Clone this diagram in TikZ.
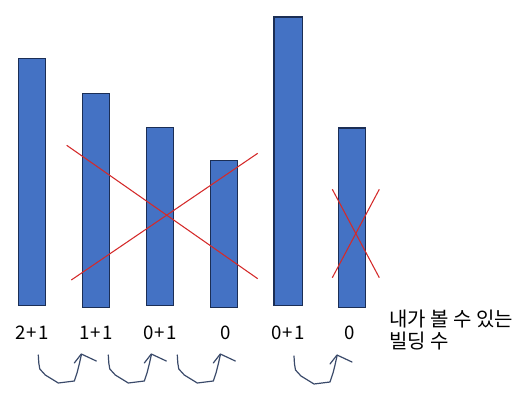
\documentclass[tikz,border=0pt]{standalone}
\usepackage{fontspec}
\setmainfont{Noto Sans CJK KR}
\definecolor{barfill}{HTML}{4472C4}
\definecolor{barline}{HTML}{1B2E55}
\definecolor{xred}{HTML}{D42A2A}
\definecolor{hand}{HTML}{3A4A6A}
\tikzset{
  bar/.style={fill=barfill,draw=barline,line width=0.9pt},
  cross/.style={draw=xred,line width=0.8pt},
  lbl/.style={font=\fontsize{14}{16}\selectfont,inner sep=0pt},
  notelbl/.style={font=\fontsize{15}{16}\selectfont,inner sep=0pt},
  handline/.style={draw=hand,line width=0.9pt,line join=round,line cap=round}
}
\newcommand{\pl}{\kern1pt+\kern1pt}
\newcommand{\handarrow}[2]{%
  \begin{scope}[shift={(#1,#2)}]
    \draw[handline] (0,0) -- (0.5,8) -- (1.5,14) -- (7,20) -- (20,28) -- (36,26) -- (39,17) -- (41,9) -- (43,0);
    \draw[handline] (36,8) -- (43,-1) -- (58,6);
  \end{scope}}
\begin{document}
\begin{tikzpicture}[x=0.75pt,y=-0.75pt]
\useasboundingbox (0,0) rectangle (524,400);
% bars
\draw[bar] (18.3,58.3) rectangle (45.3,305.3);
\draw[bar] (82.3,93.3) rectangle (109.3,307.3);
\draw[bar] (146.3,127.3) rectangle (173.3,305.3);
\draw[bar] (210.3,160.3) rectangle (237.3,307.3);
\draw[bar] (274,17) rectangle (302.7,305.3);
\draw[bar] (338.3,128) rectangle (365.3,307.3);
% crosses
\coordinate (c1a) at (66.7,145.3);
\coordinate (c1b) at (257.7,278.7);
\coordinate (c2a) at (71.3,280);
\coordinate (c2b) at (257.7,153.3);
\draw[cross] (c1a) -- (c1b);
\draw[cross] (c2a) -- (c2b);
\coordinate (c3a) at (332.3,189.3);
\coordinate (c3b) at (379.3,277.7);
\coordinate (c4a) at (332.3,277.7);
\coordinate (c4b) at (379.3,189.3);
\draw[cross] (c3a) -- (c3b);
\draw[cross] (c4a) -- (c4b);
% labels
\node[lbl] (l1) at (32,333) {2\pl1};
\node[lbl] (l2) at (96,333) {1\pl1};
\node[lbl] (l3) at (160,333) {0\pl1};
\node[lbl] (l4) at (226,333) {0};
\node[lbl] (l5) at (288,333) {0\pl1};
\node[lbl] (l6) at (350,333) {0};
\node[notelbl,anchor=north west,align=left] (note) at (389,310) {내가 볼 수 있는\\빌딩 수};
% hand-drawn arrows
\handarrow{38.3}{355}
\handarrow{108.3}{355}
\handarrow{177.3}{355}
\handarrow{294}{356}
\end{tikzpicture}
\end{document}
